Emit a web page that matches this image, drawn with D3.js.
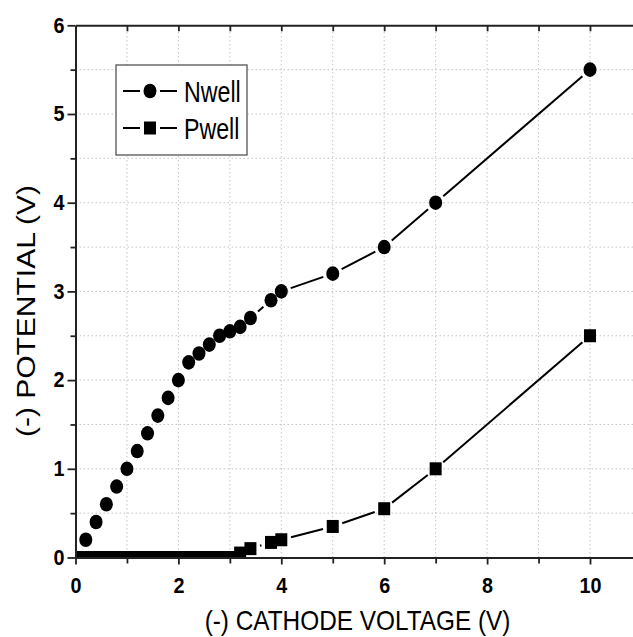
<!DOCTYPE html>
<html>
<head>
<meta charset="utf-8">
<script src="https://cdn.jsdelivr.net/npm/d3@7"></script>
<style>
  html, body { margin: 0; padding: 0; background: #fff; }
  svg { display: block; }
  text { font-family: "Liberation Sans", Arial, sans-serif; fill: #000; }
</style>
</head>
<body>
<svg id="chart" width="633" height="637"></svg>
<script>
// Measured potential vs. cathode voltage
const nwellX = [0.2, 0.4, 0.6, 0.8, 1.0, 1.2, 1.4, 1.6, 1.8, 2.0, 2.2, 2.4, 2.6, 2.8, 3.0, 3.2, 3.4, 3.8, 4.0, 5, 6, 7, 10];
const nwellY = [0.2, 0.4, 0.6, 0.8, 1.0, 1.2, 1.4, 1.6, 1.8, 2.0, 2.2, 2.3, 2.4, 2.5, 2.55, 2.6, 2.7, 2.9, 3.0, 3.2, 3.5, 4.0, 5.5];

const pwellX = [0, 0.2, 0.4, 0.6, 0.8, 1.0, 1.2, 1.4, 1.6, 1.8, 2.0, 2.2, 2.4, 2.6, 2.8, 3.0, 3.2, 3.4, 3.8, 4.0, 5, 6, 7, 10];
const pwellY = [0, 0, 0, 0, 0, 0, 0, 0, 0, 0, 0, 0, 0, 0, 0, 0, 0.05, 0.1, 0.17, 0.2, 0.35, 0.55, 1.0, 2.5];

const xTickLabels = [0, 2, 4, 6, 8, 10];
const xMinorTicks = [1, 3, 5, 7, 9];
const yTickLabels = [0, 1, 2, 3, 4, 5, 6];
const yMinorTicks = [0.5, 1.5, 2.5, 3.5, 4.5, 5.5];

const seriesNames = ["Nwell", "Pwell"];
const xTitle = "(-) CATHODE VOLTAGE (V)";
const yTitle = "(-) POTENTIAL (V)";

const svg = d3.select("#chart");
const plotLeft = 75.5, plotTop = 25.3, plotBottom = 557.5;
const x = d3.scaleLinear().domain([0, 11]).range([plotLeft, plotLeft + 11 * 51.45]);
const y = d3.scaleLinear().domain([0, 6]).range([plotBottom, plotTop]);
const plotRight = x(11);

const axisColor = "#222";

// dotted grid on major and minor positions
const gridX = d3.range(1, 11);
const gridY = yMinorTicks.concat(yTickLabels.filter(v => v > 0 && v < 6)).sort((a, b) => a - b);
const grid = svg.append("g");
grid.selectAll("line.gx").data(gridX).join("line")
  .attr("x1", d => x(d)).attr("x2", d => x(d))
  .attr("y1", y(0)).attr("y2", y(6))
  .attr("stroke", "#c4c4c4").attr("stroke-width", 1).attr("stroke-dasharray", "1.5,2.5");
grid.selectAll("line.gy").data(gridY).join("line")
  .attr("x1", x(0)).attr("x2", x(11))
  .attr("y1", d => y(d)).attr("y2", d => y(d))
  .attr("stroke", "#c4c4c4").attr("stroke-width", 1).attr("stroke-dasharray", "1.5,2.5");

// data layer, clipped to the plot frame
svg.append("clipPath").attr("id", "plotclip").append("rect")
  .attr("x", plotLeft).attr("y", plotTop).attr("width", plotRight - plotLeft).attr("height", plotBottom - plotTop);
const plot = svg.append("g").attr("clip-path", "url(#plotclip)");

// connecting lines with a gap around each marker
function gappedSegments(xs, ys, gap) {
  const segs = [];
  for (let i = 0; i < xs.length - 1; i++) {
    const x1 = x(xs[i]), y1 = y(ys[i]), x2 = x(xs[i + 1]), y2 = y(ys[i + 1]);
    const len = Math.hypot(x2 - x1, y2 - y1);
    if (len - 2 * gap < 1) continue;
    const ux = (x2 - x1) / len, uy = (y2 - y1) / len;
    segs.push([x1 + ux * gap, y1 + uy * gap, x2 - ux * gap, y2 - uy * gap]);
  }
  return segs;
}

function drawSegs(g, segs) {
  g.selectAll(null).data(segs).join("line")
    .attr("x1", d => d[0]).attr("y1", d => d[1])
    .attr("x2", d => d[2]).attr("y2", d => d[3])
    .attr("stroke", "#000").attr("stroke-width", 2);
}

drawSegs(plot.append("g"), gappedSegments(nwellX, nwellY, 10));
drawSegs(plot.append("g"), gappedSegments(pwellX, pwellY, 10));

const circRx = 6.5, circRy = 7.3, sqW = 12, sqH = 13;
plot.append("g").selectAll("ellipse").data(nwellX.map((v, i) => [v, nwellY[i]])).join("ellipse")
  .attr("cx", d => x(d[0])).attr("cy", d => y(d[1]))
  .attr("rx", circRx).attr("ry", circRy).attr("fill", "#000");
plot.append("g").selectAll("rect").data(pwellX.map((v, i) => [v, pwellY[i]])).join("rect")
  .attr("x", d => x(d[0]) - sqW / 2).attr("y", d => y(d[1]) - sqH / 2)
  .attr("width", sqW).attr("height", sqH).attr("fill", "#000");

// axes
function styleAxis(g) {
  g.select(".domain").attr("stroke", axisColor).attr("stroke-width", 2);
  g.selectAll(".tick line").attr("stroke", axisColor).attr("stroke-width", 1.8);
}

const bottomMajor = svg.append("g").attr("transform", `translate(0,${plotBottom})`)
  .call(d3.axisBottom(x).tickValues(xTickLabels).tickSize(7).tickSizeOuter(0).tickPadding(13).tickFormat(d3.format("d")));
bottomMajor.call(styleAxis);
bottomMajor.selectAll(".tick text")
  .attr("font-size", 21.5).attr("font-weight", "bold")
  .attr("transform", "scale(0.92,1)");
svg.append("g").attr("transform", `translate(0,${plotBottom})`)
  .call(d3.axisBottom(x).tickValues(xMinorTicks).tickSize(6).tickSizeOuter(0).tickFormat(""))
  .call(styleAxis);

const leftMajor = svg.append("g").attr("transform", `translate(${plotLeft},0)`)
  .call(d3.axisLeft(y).tickValues(yTickLabels).tickSize(8).tickSizeOuter(0).tickPadding(4).tickFormat(d3.format("d")));
leftMajor.call(styleAxis);
leftMajor.selectAll(".tick text")
  .attr("font-size", 21.5).attr("font-weight", "bold")
  .attr("transform", "scale(0.92,1)");
svg.append("g").attr("transform", `translate(${plotLeft},0)`)
  .call(d3.axisLeft(y).tickValues(yMinorTicks).tickSize(5).tickSizeOuter(0).tickFormat(""))
  .call(styleAxis);

// mirrored top and right frame with inward ticks
svg.append("g").attr("transform", `translate(0,${plotTop})`)
  .call(d3.axisBottom(x).tickValues(d3.range(1, 11)).tickSize(6).tickSizeOuter(0).tickFormat(""))
  .call(styleAxis);
svg.append("g").attr("transform", `translate(${plotRight},0)`)
  .call(d3.axisLeft(y).tickValues(yTickLabels.concat(yMinorTicks)).tickSize(8).tickSizeOuter(0).tickFormat(""))
  .call(styleAxis);

// axis titles
svg.append("text")
  .attr("transform", `translate(357.5,630) scale(0.87,1)`)
  .attr("text-anchor", "middle").attr("font-size", 28)
  .text(xTitle);
svg.append("text")
  .attr("transform", `translate(35,311) rotate(-90) scale(1.2,1)`)
  .attr("text-anchor", "middle").attr("font-size", 25)
  .text(yTitle);

// legend
const legend = svg.append("g");
legend.append("rect")
  .attr("x", 116).attr("y", 65).attr("width", 131).attr("height", 90)
  .attr("fill", "#fff").attr("stroke", "#555").attr("stroke-width", 1.3);
const legendRows = [91, 128];
seriesNames.forEach((name, i) => {
  const ly = legendRows[i];
  const row = legend.append("g");
  row.append("line").attr("x1", 123).attr("x2", 140).attr("y1", ly).attr("y2", ly)
    .attr("stroke", "#000").attr("stroke-width", 2);
  row.append("line").attr("x1", 160).attr("x2", 177).attr("y1", ly).attr("y2", ly)
    .attr("stroke", "#000").attr("stroke-width", 2);
  if (i === 0) {
    row.append("ellipse").attr("cx", 150).attr("cy", ly).attr("rx", circRx).attr("ry", circRy).attr("fill", "#000");
  } else {
    row.append("rect").attr("x", 150 - sqW / 2).attr("y", ly - sqH / 2).attr("width", sqW).attr("height", sqH).attr("fill", "#000");
  }
  row.append("text")
    .attr("transform", `translate(184,${ly + 10.5}) scale(0.8,1)`)
    .attr("font-size", 29)
    .text(name);
});
</script>
</body>
</html>
